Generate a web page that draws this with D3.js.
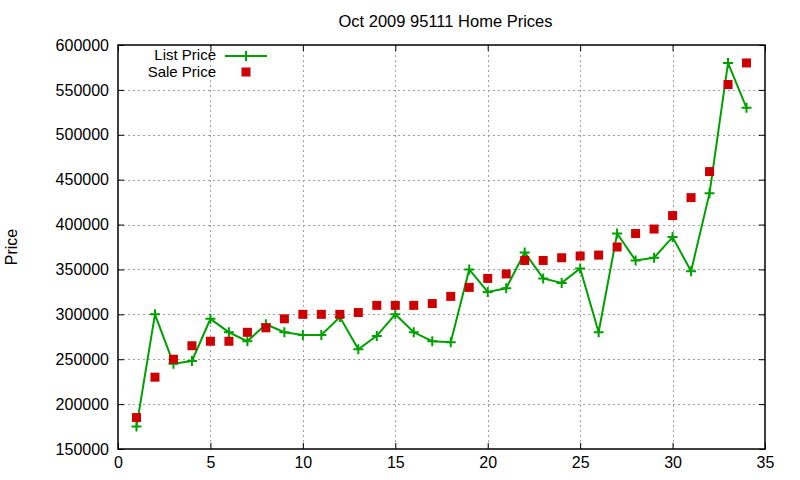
<!DOCTYPE html>
<html>
<head>
<meta charset="utf-8">
<script src="https://cdn.jsdelivr.net/npm/d3@7"></script>
<style>
  body { margin: 0; background: #fff; }
  svg { display: block; font-family: "Liberation Sans", Arial, sans-serif; }
</style>
</head>
<body>
<svg id="chart" width="800" height="480"></svg>
<script>
// index 1..34
const listPrice = [175000, 300000, 245000, 248000, 295000, 280000, 270000, 289000, 280000, 277000,
  277000, 297000, 261000, 276000, 300000, 280000, 270000, 269000, 350000, 325000,
  329000, 369000, 340000, 335000, 351000, 280000, 390000, 360000, 363000, 386000,
  348000, 435000, 580000, 530000];
const salePrice = [185000, 230000, 250000, 265000, 270000, 270000, 280000, 285000, 295000, 300000,
  300000, 300000, 302000, 310000, 310000, 310000, 312000, 320000, 330000, 340000,
  345000, 360000, 360000, 363000, 365000, 366000, 375000, 390000, 395000, 410000,
  430000, 459000, 556000, 580000];
const xTicks = [0, 5, 10, 15, 20, 25, 30, 35];
const yTicks = [150000, 200000, 250000, 300000, 350000, 400000, 450000, 500000, 550000, 600000];

const listData = listPrice.map((v, i) => ({ x: i + 1, y: v }));
const saleData = salePrice.map((v, i) => ({ x: i + 1, y: v }));

const margin = { top: 45, right: 35, bottom: 31, left: 118 };
const width = 800, height = 480;
const green = "#00a000", red = "#cc0000";
const fontSize = "16px";

const svg = d3.select("#chart");

const x = d3.scaleLinear().domain([0, 35]).range([margin.left, width - margin.right]);
const y = d3.scaleLinear().domain([150000, 600000]).range([height - margin.bottom, margin.top]);

// grid
const grid = svg.append("g")
    .attr("stroke", "#a0a0a0")
    .attr("stroke-width", 1)
    .attr("stroke-dasharray", "2,3");

grid.selectAll(".gx")
    .data(xTicks.slice(1, -1))
    .join("line")
    .attr("x1", d => Math.round(x(d)) + 0.5)
    .attr("x2", d => Math.round(x(d)) + 0.5)
    .attr("y1", margin.top)
    .attr("y2", height - margin.bottom);

grid.selectAll(".gy")
    .data(yTicks.slice(1, -1))
    .join("line")
    .attr("x1", margin.left)
    .attr("x2", width - margin.right)
    .attr("y1", d => Math.round(y(d)) + 0.5)
    .attr("y2", d => Math.round(y(d)) + 0.5);

// axes (ticks pointing inward, mirrored)
const tickLen = 6;
svg.append("g")
    .attr("transform", `translate(0,${height - margin.bottom})`)
    .call(d3.axisBottom(x).tickValues(xTicks).tickSizeInner(-tickLen).tickSizeOuter(0).tickPadding(8));
svg.append("g")
    .attr("transform", `translate(0,${margin.top})`)
    .call(d3.axisTop(x).tickValues(xTicks).tickSizeInner(-tickLen).tickSizeOuter(0).tickFormat(""));
svg.append("g")
    .attr("transform", `translate(${margin.left},0)`)
    .call(d3.axisLeft(y).tickValues(yTicks).tickSizeInner(-tickLen).tickSizeOuter(0).tickPadding(9).tickFormat(d3.format("d")));
svg.append("g")
    .attr("transform", `translate(${width - margin.right},0)`)
    .call(d3.axisRight(y).tickValues(yTicks).tickSizeInner(-tickLen).tickSizeOuter(0).tickFormat(""));

svg.selectAll(".domain").remove();
svg.selectAll(".tick line").attr("stroke", "#000").attr("stroke-width", 1);
svg.selectAll(".tick text")
    .attr("fill", "#000")
    .style("font-size", fontSize)
    .style("font-family", "'Liberation Sans', Arial, sans-serif");

// border
svg.append("rect")
    .attr("x", margin.left)
    .attr("y", margin.top)
    .attr("width", width - margin.left - margin.right)
    .attr("height", height - margin.top - margin.bottom)
    .attr("fill", "none")
    .attr("stroke", "#000")
    .attr("stroke-width", 1.5);

// list price line
const line = d3.line().x(d => x(d.x)).y(d => y(d.y));
svg.append("path")
    .datum(listData)
    .attr("d", line)
    .attr("fill", "none")
    .attr("stroke", green)
    .attr("stroke-width", 2);

const pm = 5;
function plusPath(cx, cy) {
    return `M${cx - pm},${cy}H${cx + pm}M${cx},${cy - pm}V${cy + pm}`;
}
svg.append("g").selectAll("path")
    .data(listData)
    .join("path")
    .attr("d", d => plusPath(x(d.x), y(d.y)))
    .attr("stroke", green)
    .attr("stroke-width", 2)
    .attr("fill", "none");

// sale price squares
const sq = 9;
svg.append("g").selectAll("rect")
    .data(saleData)
    .join("rect")
    .attr("x", d => x(d.x) - sq / 2)
    .attr("y", d => y(d.y) - sq / 2)
    .attr("width", sq)
    .attr("height", sq)
    .attr("fill", red);

// title
svg.append("text")
    .attr("x", (margin.left + width - margin.right) / 2 + 4)
    .attr("y", 27)
    .attr("text-anchor", "middle")
    .style("font-size", "16.5px")
    .text("Oct 2009 95111 Home Prices");

// y label
svg.append("text")
    .attr("transform", `translate(17,${(margin.top + height - margin.bottom) / 2}) rotate(-90)`)
    .attr("text-anchor", "middle")
    .style("font-size", fontSize)
    .text("Price");

// legend
const legendFont = "15px";
const legend = svg.append("g");
legend.append("text")
    .attr("x", 216).attr("y", 60)
    .attr("text-anchor", "end")
    .style("font-size", legendFont)
    .text("List Price");
legend.append("line")
    .attr("x1", 225).attr("x2", 267)
    .attr("y1", 56).attr("y2", 56)
    .attr("stroke", green).attr("stroke-width", 2);
legend.append("path")
    .attr("d", plusPath(246, 56))
    .attr("stroke", green).attr("stroke-width", 2);
legend.append("text")
    .attr("x", 216).attr("y", 77)
    .attr("text-anchor", "end")
    .style("font-size", legendFont)
    .text("Sale Price");
legend.append("rect")
    .attr("x", 246 - sq / 2).attr("y", 72 - sq / 2)
    .attr("width", sq).attr("height", sq)
    .attr("fill", red);
</script>
</body>
</html>
